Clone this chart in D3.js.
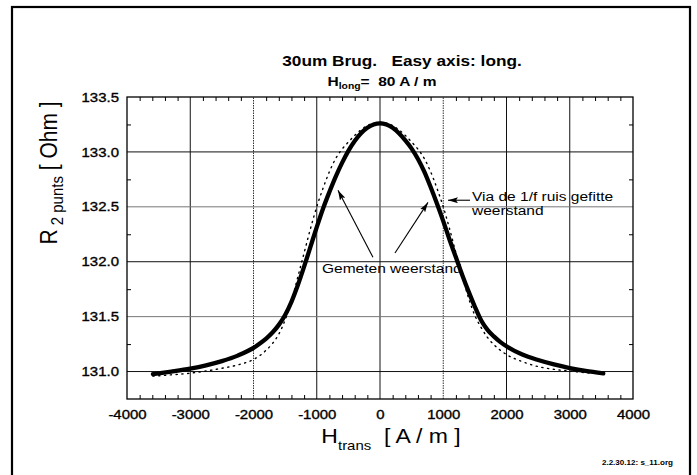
<!DOCTYPE html>
<html>
<head>
<meta charset="utf-8">
<script src="https://cdn.jsdelivr.net/npm/d3@7"></script>
<style>
  body { margin: 0; background: #fff; }
  text { font-family: "Liberation Sans", Arial, Helvetica, sans-serif; fill: #000; }
</style>
</head>
<body>
<svg id="chart" width="697" height="475"></svg>
<script>
// Transverse field sweep (A/m) and two-point resistance (Ohm)
const hTicks = [-4000, -3000, -2000, -1000, 0, 1000, 2000, 3000, 4000];
const rTicks = [131.0, 131.5, 132.0, 132.5, 133.0, 133.5];

// Measured resistance
const measuredH = [-3590, -3300, -3000, -2750, -2500, -2250, -2000, -1900, -1800, -1700, -1600, -1500, -1400, -1300,
  -1200, -1100, -1000, -900, -800, -700, -600, -500, -400, -300, -200, -100, 0,
  100, 200, 300, 400, 500, 600, 700, 800, 900, 1000, 1100, 1200, 1300, 1400, 1500, 1600, 1700, 1800, 1900,
  2000, 2250, 2500, 2750, 3000, 3250, 3530];
const measuredR = [130.977, 131.0, 131.027, 131.057, 131.095, 131.145, 131.215, 131.255, 131.3, 131.355, 131.425, 131.515, 131.635, 131.785,
  131.955, 132.135, 132.315, 132.485, 132.635, 132.775, 132.9, 133.01, 133.1, 133.17, 133.22, 133.25, 133.26,
  133.25, 133.22, 133.17, 133.105, 133.03, 132.935, 132.82, 132.68, 132.53, 132.37, 132.2, 132.04, 131.88, 131.73, 131.59, 131.465, 131.38, 131.32, 131.27,
  131.23, 131.155, 131.105, 131.065, 131.032, 131.005, 130.983];

// Resistance fitted via the 1/f noise
const fitH = [-3590, -3300, -3000, -2750, -2500, -2250, -2000, -1900, -1800, -1700, -1600, -1500, -1450, -1400, -1300,
  -1200, -1100, -1000, -900, -800, -700, -600, -500, -400, -300, -200, 0,
  200, 300, 400, 500, 600, 700, 800, 900, 1000, 1100, 1200, 1300, 1400, 1500, 1600, 1700, 1800, 1900,
  2000, 2250, 2500, 2750, 3000, 3250, 3500];
const fitR = [130.958, 130.97, 130.985, 131.005, 131.03, 131.06, 131.11, 131.145, 131.195, 131.255, 131.34, 131.47, 131.55, 131.64, 131.86,
  132.08, 132.3, 132.5, 132.67, 132.82, 132.94, 133.025, 133.09, 133.15, 133.2, 133.24, 133.27,
  133.24, 133.2, 133.15, 133.09, 133.025, 132.94, 132.82, 132.67, 132.5, 132.3, 132.08, 131.87, 131.67, 131.51, 131.4, 131.31, 131.245, 131.195,
  131.155, 131.09, 131.045, 131.02, 131.005, 130.99, 130.98];

const svg = d3.select("#chart");
const SX = 1.15; // horizontal stretch of lettering

const x = d3.scaleLinear().domain([-4000, 4000]).range([127, 633]);
const y = d3.scaleLinear().domain([130.75, 133.5]).range([399, 97]);

// outer frame
svg.append("rect").attr("x", 12).attr("y", 7).attr("width", 678).attr("height", 490)
  .attr("fill", "none").attr("stroke", "#000").attr("stroke-width", 2.2);

// grid
const grid = svg.append("g");
const faintX = new Set([-2000, 1000]);
const faintY = new Set([131.5, 132.5]);
grid.selectAll("line.gx").data(hTicks.slice(1, -1)).join("line")
  .attr("x1", d => x(d)).attr("x2", d => x(d)).attr("y1", y(130.75)).attr("y2", y(133.5))
  .attr("stroke", d => faintX.has(d) ? "#333" : "#111")
  .attr("stroke-dasharray", d => faintX.has(d) ? "1.5,1" : null)
  .attr("stroke-width", 1);
grid.selectAll("line.gy").data(rTicks.slice(0, -1)).join("line")
  .attr("y1", d => y(d)).attr("y2", d => y(d)).attr("x1", x(-4000)).attr("x2", x(4000))
  .attr("stroke", d => faintY.has(d) ? "#777" : "#111")
  .attr("stroke-width", 1);

// minor ticks, pointing inward on all four sides
const minorH = d3.range(-4000, 4001, 200).filter(v => v % 1000 !== 0);
const minorR = [131.25, 131.75, 132.25, 132.75, 133.25];
function minor(axis, tx, ty) {
  const g = svg.append("g").attr("transform", `translate(${tx},${ty})`).call(axis);
  g.select(".domain").remove();
  g.selectAll("line").attr("stroke", "#000").attr("stroke-width", 1);
}
minor(d3.axisBottom(x).tickValues(minorH).tickSize(-4).tickFormat(""), 0, y(130.75));
minor(d3.axisTop(x).tickValues(minorH).tickSize(-4).tickFormat(""), 0, y(133.5));
minor(d3.axisLeft(y).tickValues(minorR).tickSize(-4).tickFormat(""), x(-4000), 0);
minor(d3.axisRight(y).tickValues(minorR).tickSize(-4).tickFormat(""), x(4000), 0);

// tick labels
function styleTicks(g) {
  g.select(".domain").remove();
  g.selectAll("text").attr("font-size", 13).attr("fill", "#000")
    .attr("stroke", "#000").attr("stroke-width", 0.35)
    .style("font-family", "'Liberation Sans', Arial, sans-serif")
    .attr("transform", `scale(${SX},1)`);
}
svg.append("g").attr("transform", `translate(0,${y(130.75)})`)
  .call(d3.axisBottom(x).tickValues(hTicks).tickSize(0).tickPadding(11).tickFormat(d => String(d)))
  .call(styleTicks);
svg.append("g").attr("transform", `translate(${x(-4000)},0)`)
  .call(d3.axisLeft(y).tickValues(rTicks).tickSize(0).tickPadding(7).tickFormat(d3.format(".1f")))
  .call(styleTicks);

// plot border
svg.append("rect").attr("x", x(-4000)).attr("y", y(133.5))
  .attr("width", x(4000) - x(-4000)).attr("height", y(130.75) - y(133.5))
  .attr("fill", "none").attr("stroke", "#000").attr("stroke-width", 1.3);

// curves
const line = d3.line().x(d => x(d[0])).y(d => y(d[1])).curve(d3.curveMonotoneX);
svg.append("path").datum(d3.zip(fitH, fitR)).attr("d", line)
  .attr("fill", "none").attr("stroke", "#000").attr("stroke-width", 1.4)
  .attr("stroke-dasharray", "1.2,4.6").attr("stroke-linecap", "round");
svg.append("path").datum(d3.zip(measuredH, measuredR)).attr("d", line)
  .attr("fill", "none").attr("stroke", "#000").attr("stroke-width", 4.3)
  .attr("stroke-linecap", "round").attr("stroke-linejoin", "round");

// annotation arrows
svg.append("defs").append("marker").attr("id", "arrowhead")
  .attr("viewBox", "0 0 10 6").attr("refX", 10).attr("refY", 3)
  .attr("markerWidth", 10).attr("markerHeight", 6).attr("markerUnits", "userSpaceOnUse")
  .attr("orient", "auto")
  .append("path").attr("d", "M0,0 L10,3 L0,6 L2,3 z").attr("fill", "#000");

const arrows = [
  { from: [-111, 132.04], to: [-664, 132.65] },
  { from: [237, 132.08], to: [759, 132.54] },
  { from: [1423, 132.56], to: [1075, 132.56] }
];
svg.selectAll("line.arrow").data(arrows).join("line")
  .attr("x1", d => x(d.from[0])).attr("y1", d => y(d.from[1]))
  .attr("x2", d => x(d.to[0])).attr("y2", d => y(d.to[1]))
  .attr("stroke", "#000").attr("stroke-width", 1.1)
  .attr("marker-end", "url(#arrowhead)");

// stretched text helper
function label(px, py, anchor, extra) {
  return svg.append("text")
    .attr("transform", `translate(${px},${py}) scale(${SX},1)${extra || ""}`)
    .attr("text-anchor", anchor);
}

label(x(-917), y(131.897), "start").attr("font-size", 13.5).text("Gemeten weerstand");
const via = label(x(1455), y(132.553), "start").attr("font-size", 13.5);
via.append("tspan").attr("x", 0).attr("dy", 0).text("Via de 1/f ruis gefitte");
via.append("tspan").attr("x", 0).attr("dy", 14).text("weerstand");

// titles
label(402, 66, "middle").attr("font-size", 15).attr("font-weight", "bold")
  .attr("xml:space", "preserve").text("30um Brug.   Easy axis: long.");
const sub = label(382, 86, "middle").attr("font-size", 13.5).attr("font-weight", "bold")
  .attr("xml:space", "preserve");
sub.append("tspan").text("H");
sub.append("tspan").attr("font-size", 9).attr("dy", 3).text("long");
sub.append("tspan").attr("dy", -3).text("=  80 A / m");

// axis titles
const xt = label(391, 443, "middle").attr("font-size", 20).attr("xml:space", "preserve");
xt.append("tspan").text("H");
xt.append("tspan").attr("font-size", 13).attr("dy", 7).text("trans");
xt.append("tspan").attr("dy", -7).text("  [ A / m ]");

const yt = label(57, 173, "middle", " rotate(-90)").attr("font-size", 21).attr("xml:space", "preserve");
yt.append("tspan").text("R");
yt.append("tspan").attr("font-size", 15).attr("dy", 5).text(" 2 punts");
yt.append("tspan").attr("dy", -5).text(" [ Ohm ]");

// file reference
label(673, 465, "end").attr("font-size", 7).attr("font-weight", "bold").text("2.2.30.12: s_11.org");
</script>
</body>
</html>
